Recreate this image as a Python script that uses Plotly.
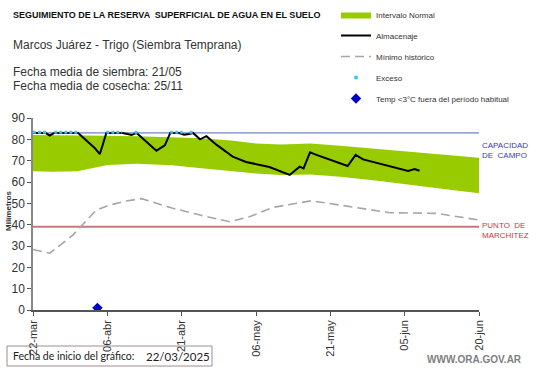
import plotly.graph_objects as go

# ---------------- data ----------------
tick_days = [0, 15, 30, 45, 60, 75, 90]
tick_labels = ["22-mar", "06-abr", "21-abr", "06-may", "21-may", "05-jun", "20-jun"]

band_days = [0, 4, 9, 12, 15, 21, 28, 34, 40, 45, 50, 56, 62, 70, 80, 90]
band_lo = [65, 64.8, 65, 66.5, 68, 68.6, 67.8, 66.4, 65, 64, 63.3, 63.5, 62.5, 60.5, 57.5, 54.7]
band_hi = [82, 82, 81.8, 81.7, 81.7, 81.5, 81, 80.5, 79.5, 78, 77.6, 78, 77, 75.5, 73.5, 71.4]

alm_days = [0, 2.5, 3.4, 4.3, 9.1, 12.5, 13.5, 14.8, 18.1, 19.9, 20.9, 24.9, 26.6, 27.7,
            29.5, 30.5, 31.5, 32.3, 33.7, 35, 37, 40.3, 43, 47.7, 51.8, 53.8, 54.6,
            55.9, 57.2, 63.5, 65.1, 66.6, 75.7, 77, 78]
alm_vals = [83, 83, 81.8, 83, 83, 75.8, 73.1, 83, 83, 82, 83, 74.7, 77.2, 83,
            83, 82.2, 82.5, 83, 80, 81.5, 77.5, 71.9, 69.4, 67, 63.3, 67.2, 66.4,
            73.9, 72.7, 67.5, 72.7, 70.6, 65.2, 66.1, 65.3]

min_days = [0, 3.4, 8, 12.8, 15.5, 18.8, 21.9, 28.2, 33.7, 39.7, 43.7, 48.4, 56.2, 66, 72, 81.4, 90]
min_vals = [28.4, 26.6, 35, 46.9, 49.2, 51.1, 52.2, 47.7, 44.5, 41.4, 43.7, 48.1, 51.2, 47.7, 45.6, 45.3, 42.2]

exc_days = [0, 2.7, None, 4.3, 9.1, None, 14.8, 18, None, 20.5, 21.2, None, 27.7, 30.2, None, 31.6, 32.3]
exc_vals = [83.3, 83.3, None, 83.3, 83.3, None, 83.3, 83.3, None, 83.3, 83.3, None, 83.3, 83.3, None, 83.3, 83.3]

temp_days = [13]
temp_vals = [1]

capacidad = 83
marchitez = 39

# ---------------- geometry helpers ----------------
L, R, T, B = 33, 479, 118, 310
W, H = 541, 368


def px(x):
    return (x - L) / (R - L)


def py(y):
    return (B - y) / (B - T)


FONT = "Liberation Sans, Arial, sans-serif"
NARROW = "Liberation Sans Narrow, Arial Narrow, Liberation Sans, Arial, sans-serif"

fig = go.Figure()

fig.add_trace(go.Scatter(x=band_days, y=band_lo, mode="lines", line=dict(width=0, color="#99cc00"),
                         showlegend=False, hoverinfo="skip"))
fig.add_trace(go.Scatter(x=band_days, y=band_hi, mode="lines", line=dict(width=0, color="#99cc00"),
                         fill="tonexty", fillcolor="#99cc00", name="Intervalo Normal",
                         legendgroup="a", legendrank=1))

fig.add_trace(go.Scatter(x=[0, 90], y=[capacidad, capacidad], mode="lines",
                         line=dict(color="#4a66b8", width=1), showlegend=False, hoverinfo="skip"))
fig.add_trace(go.Scatter(x=[0, 90], y=[marchitez, marchitez], mode="lines",
                         line=dict(color="#c47a78", width=2), showlegend=False, hoverinfo="skip"))

fig.add_trace(go.Scatter(x=min_days, y=min_vals, mode="lines",
                         line=dict(color="#a6a6a6", width=1.6, dash="9px,5px"),
                         name="Mínimo histórico", legendgroup="c", legendrank=3))

fig.add_trace(go.Scatter(x=alm_days, y=alm_vals, mode="lines",
                         line=dict(color="black", width=2), name="Almacenaje",
                         legendgroup="b", legendrank=2))

fig.add_trace(go.Scatter(x=exc_days, y=exc_vals, mode="lines",
                         line=dict(color="#33ccee", width=3, dash="3px,2px"),
                         showlegend=False, connectgaps=False, hoverinfo="skip"))
fig.add_trace(go.Scatter(x=[None], y=[None], mode="markers",
                         marker=dict(color="#33ccee", size=4, symbol="circle"),
                         name="Exceso", legendgroup="d", legendrank=4))

fig.add_trace(go.Scatter(x=temp_days, y=temp_vals, mode="markers",
                         marker=dict(color="#0000cc", size=8, symbol="diamond"),
                         name="Temp <3°C fuera del período habitual", legendgroup="e", legendrank=5))

# ---------------- annotations ----------------
ann = []


def text(x, y, s, size=12, color="#333333", xanchor="left", family=FONT, angle=0):
    ann.append(dict(x=px(x), y=py(y), xref="paper", yref="paper", text=s, showarrow=False,
                    xanchor=xanchor, yanchor="middle", textangle=angle,
                    font=dict(size=size, color=color, family=family)))


text(11, 15, "<b>SEGUIMIENTO DE LA RESERVA  SUPERFICIAL DE AGUA EN EL SUELO</b>", size=9, color="#111111")
text(11, 45, "Marcos Juárez - Trigo (Siembra Temprana)", size=12)
text(11, 72, "Fecha media de siembra: 21/05", size=12)
text(11, 86, "Fecha media de cosecha: 25/11", size=12)
text(480, 145, "CAPACIDAD", size=8, color="#3b3bb0")
text(480, 155, "DE  CAMPO", size=8, color="#3b3bb0")
text(480, 225, "PUNTO  DE", size=8, color="#d03838")
text(480, 235, "MARCHITEZ", size=8, color="#d03838")
text(8, 211, "<b>Milímetros</b>", size=8, color="#333333", xanchor="center", angle=-90)
text(11, 356, "Fecha de inicio del gráfico:", size=10.5, color="#222222", family="Lato, Open Sans, sans-serif")
text(144, 356, "22/03/2025", size=11.5, color="#222222", family="Lato, Open Sans, sans-serif")
text(474, 359, "<b>WWW.ORA.GOV.AR</b>", size=10, color="#7f7f7f", xanchor="center")

shapes = [dict(type="rect", xref="paper", yref="paper", x0=px(7), x1=px(212), y0=py(346), y1=py(366),
               line=dict(color="#a08c8c", width=1), fillcolor="rgba(0,0,0,0)")]

fig.update_layout(
    width=W, height=H,
    margin=dict(l=L, r=W - R, t=T, b=H - B, pad=0, autoexpand=False),
    paper_bgcolor="white", plot_bgcolor="white",
    font=dict(family=FONT, size=12, color="#333333"),
    annotations=ann, shapes=shapes,
    legend=dict(xref="container", yref="container", x=336 / W, y=1 + 5 / H,
                xanchor="left", yanchor="top",
                font=dict(size=8, family=NARROW, color="#333333"),
                tracegroupgap=2, itemwidth=30, bgcolor="rgba(0,0,0,0)",
                traceorder="grouped"),
)

fig.update_xaxes(range=[0, 90], tickvals=tick_days, ticktext=tick_labels, tickangle=-90,
                 showgrid=False, zeroline=False, showline=True, linecolor="#555555", linewidth=1.5,
                 ticks="outside", ticklen=4, tickcolor="#555555",
                 tickfont=dict(size=11, color="#333333"))
fig.update_yaxes(range=[0, 90], tickvals=list(range(0, 91, 10)), showgrid=False, zeroline=False,
                 showline=True, linecolor="#888888", linewidth=1.5,
                 ticks="outside", ticklen=4, tickcolor="#555555",
                 tickfont=dict(size=12, color="#333333"))

fig.write_html("out.html", config={"displayModeBar": False},
               post_script="document.body.style.margin='0';document.body.style.overflow='hidden';")
